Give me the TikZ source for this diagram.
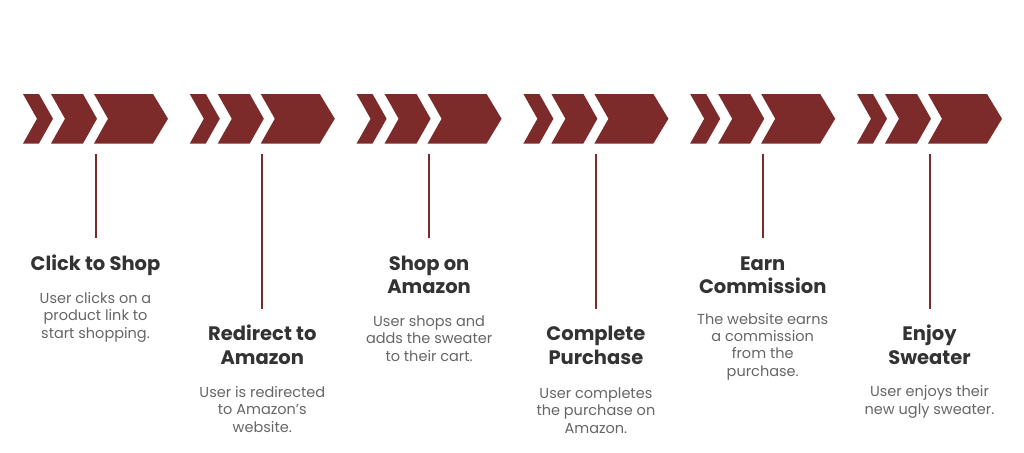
\documentclass[tikz,border=0pt]{standalone}
\usepackage{fontspec}
\setmainfont{Poppins}
\definecolor{wine}{HTML}{7D2A2A}
\definecolor{ttlc}{HTML}{333333}
\definecolor{dscc}{HTML}{666666}
\begin{document}
\begin{tikzpicture}[x=1pt,y=-1pt,
  chev/.style={fill=wine},
  stem/.style={draw=wine, line width=2pt},
  ttl/.style={font=\fontsize{19.5}{23.5}\selectfont\bfseries, text=ttlc, align=center, inner sep=0pt, anchor=base},
  dsc/.style={font=\fontsize{14.5}{17.3}\selectfont, text=dscc, align=center, inner sep=0pt, anchor=base}]
\useasboundingbox[fill=white] (0,0) rectangle (1024,452);
\foreach \i/\e in {0/238,1/309,2/238,3/309,4/238,5/309}{
  \pgfmathsetmacro\xo{23+166.8*\i}
  \fill[chev] (\xo,94) -- ({\xo+16},94) -- ({\xo+30},118.75) -- ({\xo+16},143.5) -- (\xo,143.5) -- ({\xo+14},118.75) -- cycle;
  \fill[chev] ({\xo+28},94) -- ({\xo+60},94) -- ({\xo+74},118.75) -- ({\xo+60},143.5) -- ({\xo+28},143.5) -- ({\xo+42},118.75) -- cycle;
  \fill[chev] ({\xo+71},94) -- ({\xo+130},94) -- ({\xo+145},118.75) -- ({\xo+130},143.5) -- ({\xo+71},143.5) -- ({\xo+85},118.75) -- cycle;
  \coordinate (s\i) at ({\xo+72.5},154);
  \coordinate (e\i) at ({\xo+72.5},\e);
  \draw[stem] (s\i) -- (e\i);
}
\node[ttl] (t1) at (95.5,270) {Click to Shop};
\node[dsc] (d1) at (95.5,338) {User clicks on a\\product link to\\start shopping.};
\node[ttl] (t2) at (262.3,364) {Redirect to\\Amazon};
\node[dsc] (d2) at (262.3,432) {User is redirected\\to Amazon\symbol{"27}s\\website.};
\node[ttl] (t3) at (429.1,293.5) {Shop on\\Amazon};
\node[dsc] (d3) at (429.1,361) {User shops and\\adds the sweater\\to their cart.};
\node[ttl] (t4) at (595.9,364) {Complete\\Purchase};
\node[dsc] (d4) at (595.9,433) {User completes\\the purchase on\\Amazon.};
\node[ttl] (t5) at (762.7,293.5) {Earn\\Commission};
\node[dsc] (d5) at (762.7,376) {The website earns\\a commission\\from the\\purchase.};
\node[ttl] (t6) at (929.5,364) {Enjoy\\Sweater};
\node[dsc] (d6) at (929.5,414) {User enjoys their\\new ugly sweater.};
\end{tikzpicture}
\end{document}
